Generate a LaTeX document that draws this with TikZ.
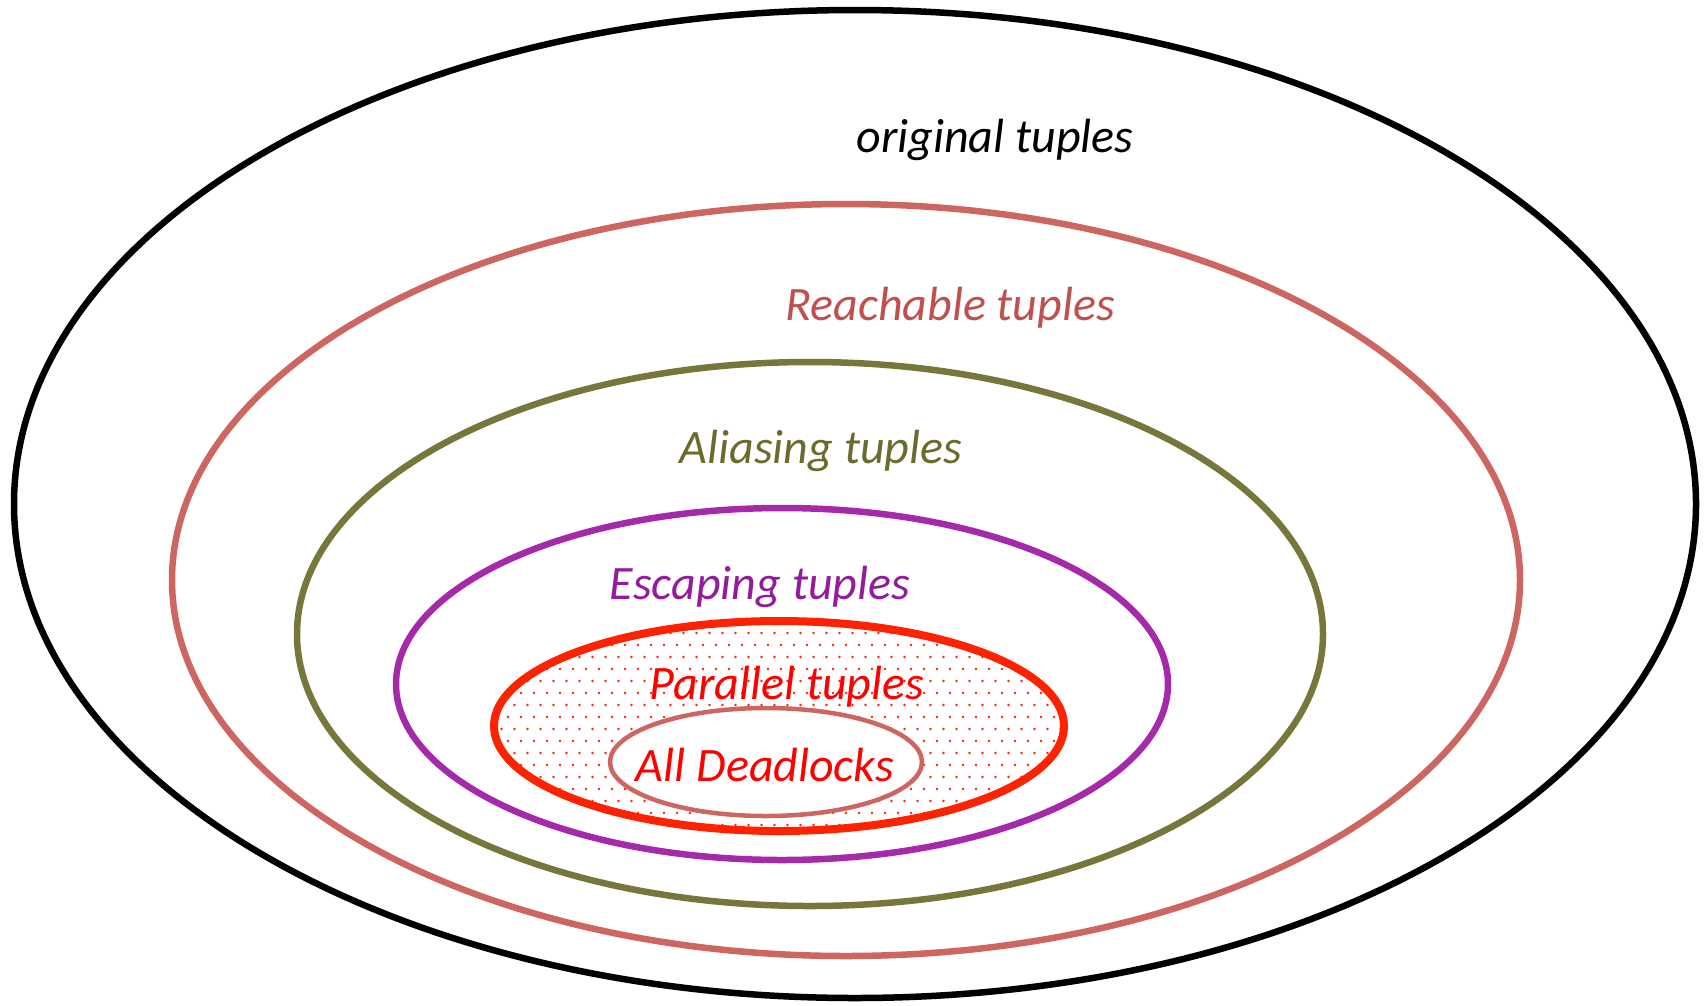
\documentclass[tikz,border=0pt]{standalone}
\usepackage{fontspec}
\setmainfont{Carlito}
\usetikzlibrary{positioning}

\definecolor{reachcol}{HTML}{CD6660}
\definecolor{reachtxt}{HTML}{C0504D}
\definecolor{aliascol}{HTML}{77773C}
\definecolor{aliastxt}{HTML}{6B6B2D}
\definecolor{escapecol}{HTML}{A52AAA}
\definecolor{escapetxt}{HTML}{931C9C}
\definecolor{parcol}{HTML}{FF2200}
\definecolor{partxt}{HTML}{FF0000}

\tikzset{
  setlabel/.style={font=\fontsize{48}{56}\selectfont\itshape, inner sep=0pt}
}

\begin{document}
\begin{tikzpicture}[x=1pt, y=-1pt, line cap=round]
    \useasboundingbox (0,0) rectangle (1708,1005);

    % the nested sets, outermost first
    \draw[line width=6.5pt, black] (855,504) ellipse [x radius=841, y radius=494];
    \draw[line width=6.5pt, reachcol] (846,580) ellipse [x radius=674, y radius=376];
    \draw[line width=6.5pt, aliascol] (810,634) ellipse [x radius=513, y radius=272];
    \draw[line width=6.5pt, escapecol] (782,684) ellipse [x radius=386, y radius=176];

    % dotted fill of the parallel set
    \begin{scope}
        \clip (779,726) ellipse [x radius=285, y radius=105];
        \foreach \row in {0,...,18} {
            \pgfmathsetmacro{\yy}{621+12*\row}
            \pgfmathsetmacro{\shift}{mod(\row,2)*6.5}
            \foreach \col in {0,...,44} {
                \fill[parcol] (495+\shift+13*\col,\yy) circle (1.4pt);
            }
        }
    \end{scope}
    \draw[line width=8pt, parcol] (779,726) ellipse [x radius=285, y radius=105];

    % the deadlocks in the middle
    \filldraw[line width=4.5pt, draw=reachcol, fill=white] (766,762) ellipse [x radius=156, y radius=54];

    % set names
    \node[setlabel, black]     (orig)  at (995,140) {original tuples};
    \node[setlabel, reachtxt]  (reach) at (950,308) {Reachable tuples};
    \node[setlabel, aliastxt]  (alias) at (821,451) {Aliasing tuples};
    \node[setlabel, escapetxt] (esc)   at (760,587) {Escaping tuples};
    \node[setlabel, partxt]    (par)   at (787,687) {Parallel tuples};
    \node[setlabel, partxt]    (dead)  at (765,765) {All Deadlocks};
\end{tikzpicture}
\end{document}
